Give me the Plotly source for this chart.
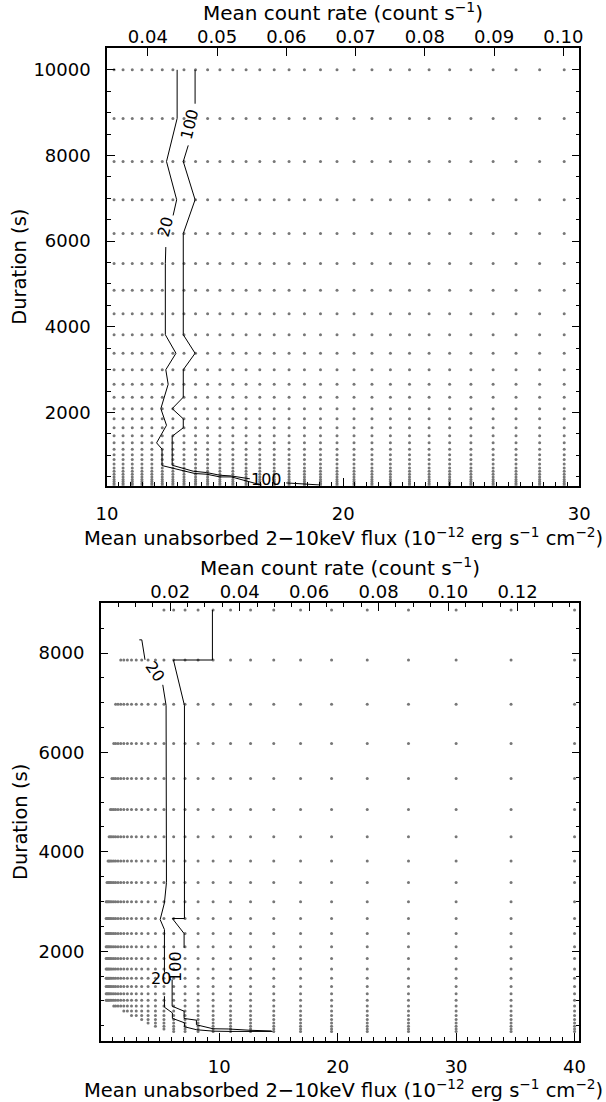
import plotly.graph_objects as go

# ---------------- data ----------------
RATE_PER_FLUX = 0.00341  # count s^-1 per 1e-12 erg s^-1 cm^-2

# top panel grid
FLUX_TOP = [10.30, 10.68, 11.07, 11.48, 11.90, 12.34, 12.79, 13.26, 13.75, 14.26,
            14.78, 15.33, 15.89, 16.47, 17.08, 17.71, 18.36, 19.04, 19.74, 20.46,
            21.22, 22.00, 22.81, 23.64, 24.51, 25.41, 26.35, 27.32, 28.32, 29.36]
DUR_TOP = [10000, 8865, 7859, 6967, 6177, 5476, 4854, 4303, 3815, 3382, 2998, 2658,
           2356, 2089, 1852, 1642, 1455, 1290, 1144, 1014, 899, 797, 706, 626, 555,
           492, 436, 387, 343, 304]

# bottom panel grid
FLUX_BOT = [40.0, 34.64, 30.0, 25.98, 22.5, 19.49, 16.87, 14.61, 12.65, 10.96, 9.49,
            8.22, 7.12, 6.16, 5.34, 4.62, 4.0, 3.46, 3.0, 2.6, 2.25, 1.95, 1.69, 1.46,
            1.26, 1.10, 0.95, 0.82, 0.71, 0.62, 0.53, 0.46]
DUR_BOT = [8865, 7859, 6967, 6177, 5476, 4854, 4303, 3815, 3382, 2998, 2658, 2356,
           2089, 1852, 1642, 1455, 1290, 1144, 1014, 899, 797, 706, 626, 555, 492,
           436, 387]
BOT_ROW_MIN_FLUX = [5.34, 1.69, 1.26, 1.10, 0.95, 0.82, 0.71, 0.62, 0.53, 0.46, 0.46,
                    0.46, 0.46, 0.46, 0.46, 0.46, 0.46, 0.46, 0.46, 1.10, 1.95, 2.60,
                    3.46, 4.00, 4.62, 5.34, 6.16]

# contour lines (flux, duration); None separates pieces
TOP_C20_FLUX = [12.97, 12.97, 12.52, 12.95, 12.80, None, 12.49, 12.47, 12.47, 12.92, 12.49,
                12.59, 12.28, 12.52, 12.10, 12.33, 12.33, 13.72, 14.22, 14.78, 15.27,
                15.91, 16.30, 16.55]
TOP_C20_DUR = [10000, 8865, 7859, 6967, 6600, None, 5862, 5476, 3815, 3382, 2998,
               2658, 2089, 1700, 1290, 1144, 760, 574, 558, 495, 495, 401, 340, 304]
TOP_C100_FLUX = [13.73, 13.73, None, 13.44, 13.23, 13.73, 13.23, 13.23, 13.73, 13.23,
                 13.23, 12.76, 13.23, 13.23, 12.76, 12.76, 13.65, 14.22, 14.78, 15.27,
                 15.91, 16.05, None, 17.59, 19.0]
TOP_C100_DUR = [10000, 9209, None, 8236, 7859, 6967, 6177, 3815, 3382, 2998, 2356,
                2089, 1852, 1642, 1445, 768, 628, 597, 534, 518, 457, 450, None, 355, 308]

BOT_C20_FLUX = [3.26, 3.47, 3.74, None, 5.24, 5.52, 5.55, 5.38, 5.02, 5.38, 5.38, None,
                5.38, 5.38, 6.05, 6.05, 7.07, 7.07, 8.11, 9.52, 10.85, 12.62, 14.5]
BOT_C20_DUR = [8265, 8265, 7863, None, 7360, 6945, 3380, 2973, 2637, 2436, 1570, None,
               1095, 874, 760, 650, 560, 480, 420, 392, 387, 387, 387]
BOT_C100_FLUX = [9.43, 9.43, 6.14, 7.07, 7.07, 6.05, 7.04, 7.04, None, 6.03, 6.03, 7.04,
                 7.04, 8.08, 8.08, 9.49, 10.76, 12.60, 14.42]
BOT_C100_DUR = [8865, 7859, 7859, 6945, 2658, 2658, 2356, 2068, None, 1430, 894, 794,
                647, 613, 520, 440, 436, 410, 395]

# contour labels: (text, flux, duration, angle)
TOP_LABELS = [("100", 13.51, 8742, -76), ("20", 12.45, 6330, -76), ("100", 16.75, 440, 0)]
BOT_LABELS = [("20", 4.59, 7630, 55), ("20", 5.12, 1451, 0), ("100", 6.3, 1690, -90)]

# axis ticks
TOP_FLUX_TICKS = [10, 20, 30]
TOP_RATE_TICKS = [0.04, 0.05, 0.06, 0.07, 0.08, 0.09, 0.10]
TOP_DUR_TICKS = [2000, 4000, 6000, 8000, 10000]
BOT_FLUX_TICKS = [10, 20, 30, 40]
BOT_RATE_TICKS = [0.02, 0.04, 0.06, 0.08, 0.10, 0.12]
BOT_DUR_TICKS = [2000, 4000, 6000, 8000]

XLAB = "Mean unabsorbed 2−10keV flux (10<sup>−12</sup> erg s<sup>−1</sup> cm<sup>−2</sup>)"
RLAB = "Mean count rate (count s<sup>−1</sup>)"
YLAB = "Duration (s)"

# ---------------- geometry / style ----------------
W, H = 606, 1102
TOP_X = [107 / W, 579.3 / W]
TOP_Y = [1 - 485.7 / H, 1 - 48 / H]
BOT_X = [100.7 / W, 579.3 / W]
BOT_Y = [1 - 1040.7 / H, 1 - 603.3 / H]
TOP_XR = [10, 30]
TOP_YR = [290, 10510]
BOT_XR = [0, 40.4]
BOT_YR = [200, 9000]

FONT = "DejaVu Sans"
DOT = "#777777"

fig = go.Figure()

# dots top
tx, ty = [], []
for d in DUR_TOP:
    for f in FLUX_TOP:
        tx.append(f)
        ty.append(d)
fig.add_trace(go.Scatter(x=tx, y=ty, mode="markers", xaxis="x", yaxis="y",
                         marker=dict(size=3, color=DOT), hoverinfo="skip", showlegend=False))

# dots bottom
bx, by = [], []
for d, fmin in zip(DUR_BOT, BOT_ROW_MIN_FLUX):
    for f in FLUX_BOT:
        if f >= fmin - 1e-9:
            bx.append(f)
            by.append(d)
fig.add_trace(go.Scatter(x=bx, y=by, mode="markers", xaxis="x3", yaxis="y2",
                         marker=dict(size=3, color=DOT), hoverinfo="skip", showlegend=False))

LINE = dict(color="black", width=1)
for xs, ys, xa, ya in [(TOP_C20_FLUX, TOP_C20_DUR, "x", "y"),
                       (TOP_C100_FLUX, TOP_C100_DUR, "x", "y"),
                       (BOT_C20_FLUX, BOT_C20_DUR, "x3", "y2"),
                       (BOT_C100_FLUX, BOT_C100_DUR, "x3", "y2")]:
    fig.add_trace(go.Scatter(x=xs, y=ys, mode="lines", line=LINE, xaxis=xa, yaxis=ya,
                             connectgaps=False, hoverinfo="skip", showlegend=False))

# invisible traces to activate the count-rate axes
fig.add_trace(go.Scatter(x=[None], y=[None], xaxis="x2", yaxis="y", showlegend=False))
fig.add_trace(go.Scatter(x=[None], y=[None], xaxis="x4", yaxis="y2", showlegend=False))

ann = []
for t, f, d, a in TOP_LABELS:
    ann.append(dict(text=t, x=f, y=d, xref="x", yref="y", showarrow=False, textangle=a,
                    font=dict(family=FONT, size=16, color="black")))
for t, f, d, a in BOT_LABELS:
    ann.append(dict(text=t, x=f, y=d, xref="x3", yref="y2", showarrow=False, textangle=a,
                    font=dict(family=FONT, size=16, color="black")))


def title(text, x, y, size, angle=0):
    return dict(text=text, x=x, y=y, xref="paper", yref="paper", showarrow=False,
                textangle=angle, xanchor="center", yanchor="middle",
                font=dict(family=FONT, size=size, color="black"))


tcx = (TOP_X[0] + TOP_X[1]) / 2
bcx = (BOT_X[0] + BOT_X[1]) / 2
ann += [
    title(RLAB, tcx, 1 - 12 / H, 20),
    title(XLAB, 343 / W, 1 - 537 / H, 19.5),
    title(YLAB, 20 / W, (TOP_Y[0] + TOP_Y[1]) / 2, 19.5, -90),
    title(RLAB, bcx, 1 - 567 / H, 20),
    title(XLAB, 343 / W, 1 - 1088.5 / H, 19.5),
    title(YLAB, 20 / W, (BOT_Y[0] + BOT_Y[1]) / 2, 19.5, -90),
]

AX = dict(showgrid=False, zeroline=False, showline=True, linecolor="black", linewidth=1.5,
          ticks="inside", tickcolor="black", tickwidth=1, ticklen=8, automargin=False,
          tickfont=dict(family=FONT, size=18, color="black"))


def fmt(v):
    return f"{v:.2f}"


fig.update_layout(
    width=W, height=H, margin=dict(l=0, r=0, t=0, b=0, autoexpand=False),
    paper_bgcolor="white", plot_bgcolor="white", annotations=ann,
    xaxis=dict(AX, domain=TOP_X, anchor="y", range=TOP_XR, tickvals=TOP_FLUX_TICKS,
               ticktext=[str(v) for v in TOP_FLUX_TICKS], ticklabelstandoff=11,
               minor=dict(ticks="inside", dtick=0.5, tick0=0, ticklen=4, tickcolor="black")),
    xaxis2=dict(AX, overlaying="x", side="top", anchor="y",
                range=[TOP_XR[0] * RATE_PER_FLUX, TOP_XR[1] * RATE_PER_FLUX],
                tickvals=TOP_RATE_TICKS, ticktext=[fmt(v) for v in TOP_RATE_TICKS],
                ticklabelstandoff=-4),
    yaxis=dict(AX, domain=TOP_Y, anchor="x", range=TOP_YR, tickvals=TOP_DUR_TICKS,
               ticktext=[str(v) for v in TOP_DUR_TICKS], mirror="ticks", ticklabelstandoff=11,
               minor=dict(ticks="inside", dtick=500, tick0=0, ticklen=4, tickcolor="black")),
    xaxis3=dict(AX, domain=BOT_X, anchor="y2", range=BOT_XR, tickvals=BOT_FLUX_TICKS,
                ticktext=[str(v) for v in BOT_FLUX_TICKS], ticklabelstandoff=9,
                minor=dict(ticks="inside", dtick=1, tick0=0, ticklen=4, tickcolor="black")),
    xaxis4=dict(AX, overlaying="x3", side="top", anchor="y2",
                range=[BOT_XR[0] * RATE_PER_FLUX, BOT_XR[1] * RATE_PER_FLUX],
                tickvals=BOT_RATE_TICKS, ticktext=[fmt(v) for v in BOT_RATE_TICKS],
                ticklabelstandoff=-4,
                minor=dict(ticks="inside", dtick=0.005, tick0=0, ticklen=4, tickcolor="black")),
    yaxis2=dict(AX, domain=BOT_Y, anchor="x3", range=BOT_YR, tickvals=BOT_DUR_TICKS,
                ticktext=[str(v) for v in BOT_DUR_TICKS], mirror="ticks", ticklabelstandoff=11,
                minor=dict(ticks="inside", dtick=500, tick0=0, ticklen=4, tickcolor="black")),
)

fig.write_html("out.html", config={"displayModeBar": False},
               post_script="document.body.style.margin='0px';")
